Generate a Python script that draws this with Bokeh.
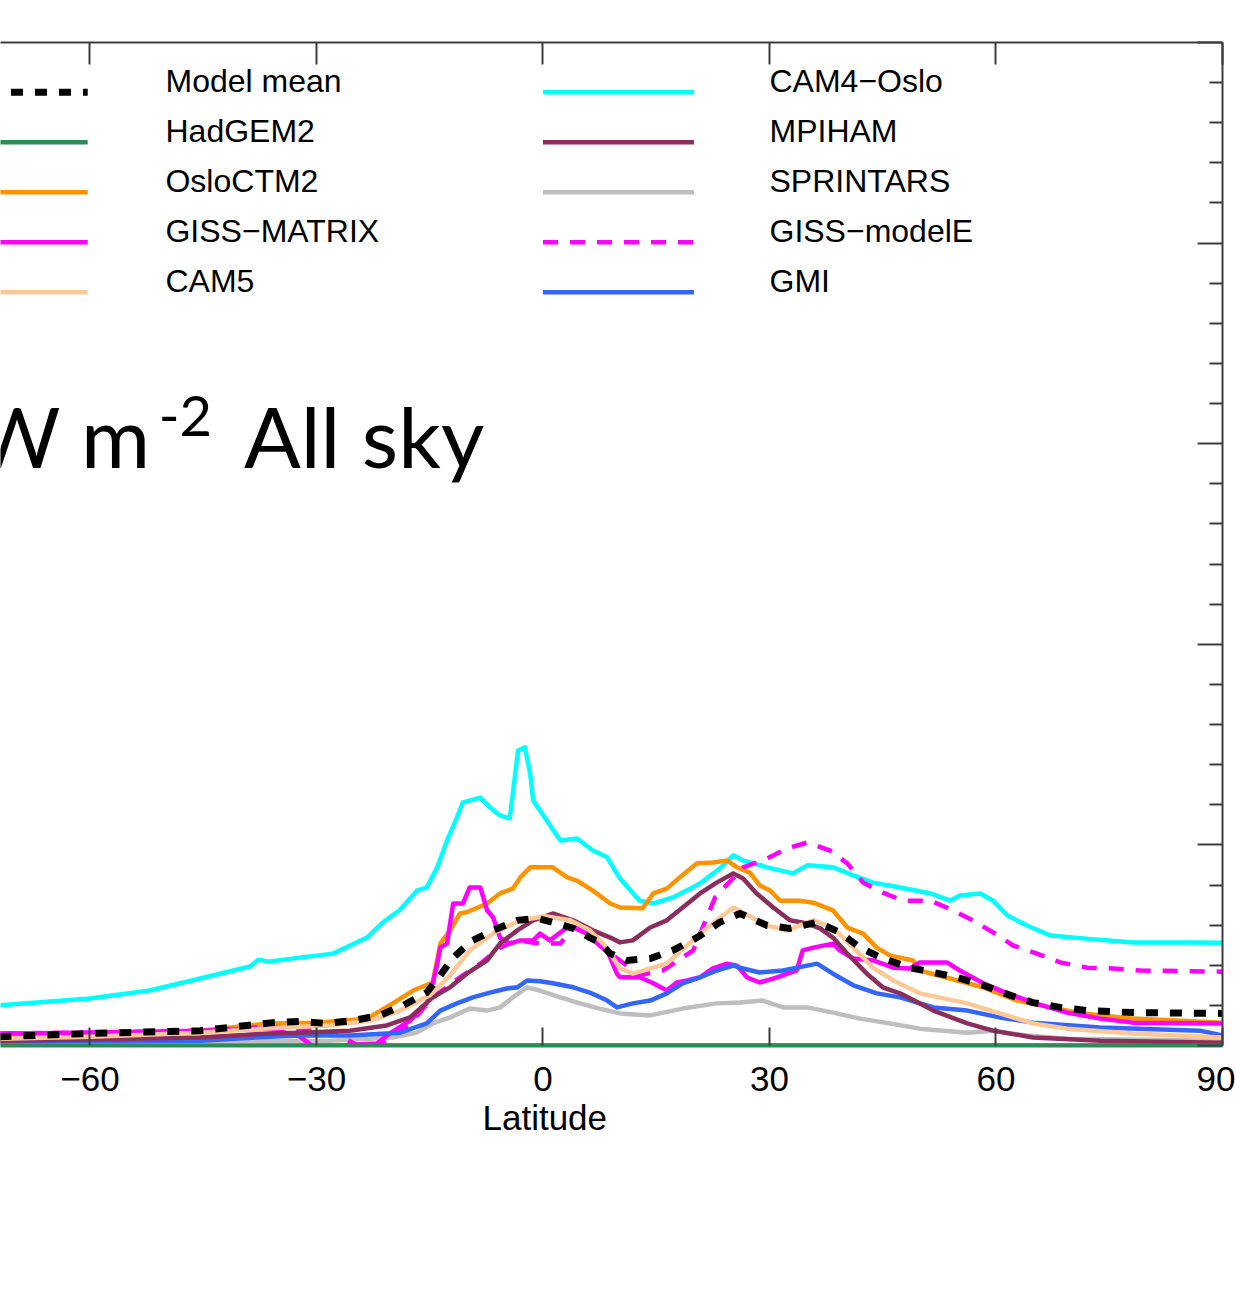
from bokeh.plotting import figure
from bokeh.models import Range1d, LinearAxis, FixedTicker, Title
from bokeh.core.properties import value
from bokeh.embed import file_html
from bokeh.resources import INLINE

# ---------------- data (latitude, W m-2) ----------------
cam4_lat = [-72, -60, -52.1, -45.4, -38.8, -37.7, -36.4, -32.2, -27.8, -23.3, -21.2, -19.0, -16.7, -15.4, -14.0,
            -12.7, -11.4, -10.6, -8.3, -7.0, -5.7, -4.4, -3.3, -2.4, -1.7, -1.3, 0.5, 2.3, 4.5, 6.6, 8.5, 10.2,
            12.8, 14.6, 17.2, 20.8, 23.4, 25.2, 26.5, 29.7, 33.1, 35.0, 38.4, 41.1, 43.7, 47.3, 51.3, 53.9, 55.2,
            57.9, 59.6, 61.5, 64.1, 67.2, 71.5, 78.1, 84.8, 90]
cam4_val = [0.100, 0.117, 0.137, 0.167, 0.197, 0.214, 0.209, 0.219, 0.229, 0.269, 0.307, 0.337, 0.386, 0.394, 0.444,
            0.511, 0.568, 0.606, 0.618, 0.593, 0.573, 0.566, 0.735, 0.743, 0.678, 0.611, 0.561, 0.511, 0.516, 0.486,
            0.469, 0.416, 0.361, 0.354, 0.369, 0.404, 0.441, 0.474, 0.461, 0.444, 0.429, 0.449, 0.444, 0.424, 0.406,
            0.394, 0.379, 0.361, 0.374, 0.379, 0.361, 0.324, 0.299, 0.274, 0.267, 0.257, 0.257, 0.256]

oslo_lat = [-72, -60, -45.4, -36.2, -29.9, -23.3, -19.9, -17.2, -14.6, -13.6, -12.3, -11.0, -10.1, -7.4, -5.7, -4.0,
            -3.0, -1.7, 1.3, 3.2, 4.5, 6.6, 8.9, 10.2, 13.2, 14.6, 16.4, 18.1, 20.4, 22.5, 24.4, 25.7, 27.4, 28.7,
            30.1, 31.4, 34.0, 35.8, 38.4, 40.3, 42.4, 44.2, 46.0, 49.0, 49.9, 53.9, 58.3, 62.8, 67.2, 71.5, 78.1, 90]
oslo_val = [0.020, 0.025, 0.037, 0.055, 0.057, 0.067, 0.105, 0.137, 0.157, 0.254, 0.287, 0.329, 0.332, 0.354, 0.379,
            0.391, 0.419, 0.444, 0.444, 0.419, 0.411, 0.386, 0.354, 0.344, 0.342, 0.379, 0.391, 0.419, 0.454, 0.456,
            0.461, 0.444, 0.431, 0.399, 0.386, 0.361, 0.361, 0.356, 0.337, 0.294, 0.279, 0.244, 0.224, 0.212, 0.187,
            0.167, 0.145, 0.112, 0.095, 0.080, 0.067, 0.057]

mean_lat = [-72, -60, -45.4, -39.2, -35.8, -32.2, -28.6, -25.2, -21.6, -18.5, -15.4, -13.6, -11.9, -9.3, -6.6, -3.4,
            -0.8, 1.9, 4.0, 6.2, 7.5, 8.9, 11.1, 14.2, 17.2, 20.4, 23.4, 26.1, 29.7, 32.7, 36.3, 39.3, 42.0, 45.0,
            48.6, 51.7, 54.8, 58.3, 61.9, 64.9, 68.5, 72.1, 78.1, 90]
mean_val = [0.022, 0.030, 0.037, 0.050, 0.057, 0.060, 0.055, 0.062, 0.075, 0.100, 0.132, 0.175, 0.219, 0.262, 0.287,
            0.312, 0.317, 0.304, 0.292, 0.269, 0.257, 0.229, 0.212, 0.217, 0.237, 0.269, 0.307, 0.329, 0.299, 0.292,
            0.307, 0.282, 0.244, 0.217, 0.194, 0.182, 0.170, 0.150, 0.125, 0.107, 0.095, 0.087, 0.082, 0.080]

cam5_lat = [-72, -60, -45.4, -34.4, -28.2, -22.9, -18.9, -15.0, -12.3, -9.7, -6.4, -3.0, 0.3, 3.6, 6.2, 8.2, 10.2,
            11.9, 16.4, 20.8, 25.2, 29.7, 32.3, 35.8, 38.4, 41.1, 43.7, 46.4, 49.9, 56.2, 60.5, 64.9, 69.4, 78.1, 90]
cam5_val = [0.017, 0.022, 0.032, 0.045, 0.050, 0.062, 0.087, 0.125, 0.175, 0.237, 0.282, 0.312, 0.322, 0.312, 0.287,
            0.249, 0.192, 0.179, 0.204, 0.279, 0.344, 0.299, 0.287, 0.312, 0.294, 0.244, 0.194, 0.162, 0.130, 0.105,
            0.080, 0.055, 0.042, 0.030, 0.020]

matrix_lat = [-72, -60, -45.4, -36.2, -32.2, -29.9, -25.6, -22.0, -20.3, -17.6, -15.4, -14.6, -14.0, -13.6, -12.7,
              -11.9, -10.6, -9.7, -8.3, -7.4, -6.6, -5.7, -4.4, -3.0, -1.3, -0.4, 0.9, 3.2, 4.5, 6.6, 8.5, 9.8, 10.2,
              12.8, 14.6, 16.4, 17.7, 19.1, 20.8, 22.5, 24.4, 25.7, 27.0, 28.7, 31.0, 33.6, 34.4, 35.8, 38.4, 39.3,
              41.1, 43.7, 46.4, 48.6, 49.9, 53.5, 55.2, 58.3, 61.5, 64.9, 69.4, 73.8, 78.1, 90]
matrix_val = [0.030, 0.032, 0.037, 0.042, 0.022, -0.010, 0.002, 0.005, 0.030, 0.062, 0.105, 0.155, 0.204, 0.244,
              0.254, 0.354, 0.354, 0.394, 0.394, 0.337, 0.319, 0.269, 0.254, 0.262, 0.262, 0.279, 0.262, 0.294, 0.294,
              0.269, 0.237, 0.179, 0.170, 0.170, 0.155, 0.137, 0.157, 0.162, 0.170, 0.192, 0.204, 0.199, 0.170, 0.157,
              0.170, 0.187, 0.237, 0.244, 0.254, 0.237, 0.217, 0.212, 0.194, 0.192, 0.207, 0.207, 0.187, 0.155, 0.130,
              0.107, 0.082, 0.067, 0.057, 0.055]

mpiham_lat = [-72, -60, -45.4, -36.2, -32.2, -25.6, -20.7, -17.6, -14.6, -12.3, -10.1, -7.4, -5.7, -3.4, -1.3, 1.3,
              4.0, 6.6, 8.9, 10.2, 11.9, 14.2, 16.4, 18.5, 20.8, 23.0, 25.2, 26.5, 28.3, 30.5, 32.7, 35.0, 36.7, 38.4,
              40.3, 42.9, 45.0, 47.3, 51.7, 56.2, 59.6, 64.9, 73.8, 90]
mpiham_val = [0.012, 0.015, 0.020, 0.030, 0.032, 0.037, 0.050, 0.070, 0.120, 0.145, 0.179, 0.212, 0.254, 0.287, 0.312,
              0.329, 0.312, 0.287, 0.269, 0.257, 0.262, 0.294, 0.312, 0.344, 0.379, 0.406, 0.429, 0.416, 0.379, 0.344,
              0.312, 0.304, 0.292, 0.269, 0.229, 0.179, 0.145, 0.130, 0.087, 0.055, 0.037, 0.020, 0.012, 0.007]

sprint_lat = [-72, -45.4, -28.2, -19.9, -16.7, -14.6, -12.3, -9.7, -7.4, -5.7, -4.0, -2.1, -0.4, 2.3, 4.9, 7.5, 10.2,
              14.2, 18.5, 23.0, 26.1, 29.1, 31.8, 35.0, 38.4, 42.0, 46.0, 49.9, 56.2, 59.6, 64.1, 69.4, 90]
sprint_val = [0.007, 0.010, 0.012, 0.020, 0.032, 0.055, 0.070, 0.092, 0.087, 0.095, 0.120, 0.145, 0.137, 0.120, 0.105,
              0.092, 0.080, 0.075, 0.092, 0.105, 0.107, 0.112, 0.095, 0.095, 0.082, 0.067, 0.055, 0.042, 0.032, 0.037,
              0.025, 0.017, 0.012]

modele_lat = [-72, -60, -45.4, -36.2, -32.2, -26.9, -23.6, -22.0, -20.3, -17.6, -14.6, -11.0, -8.3, -5.7, -3.4, -0.4,
              2.3, 4.0, 5.8, 7.5, 10.2, 12.8, 15.9, 19.9, 21.7, 22.8, 26.5, 29.7, 32.3, 35.0, 38.0, 40.3, 42.4, 45.0,
              47.7, 51.3, 54.3, 56.9, 59.6, 62.3, 65.4, 68.5, 72.1, 75.5, 79.1, 90]
modele_val = [0.030, 0.032, 0.037, 0.047, 0.042, 0.025, -0.010, -0.005, 0.020, 0.055, 0.120, 0.170, 0.204, 0.244,
              0.262, 0.254, 0.254, 0.294, 0.279, 0.249, 0.212, 0.175, 0.187, 0.237, 0.319, 0.369, 0.444, 0.466, 0.491,
              0.506, 0.486, 0.454, 0.406, 0.381, 0.361, 0.361, 0.337, 0.312, 0.282, 0.249, 0.229, 0.207, 0.194, 0.192,
              0.187, 0.184]

gmi_lat = [-72, -45.4, -36.2, -32.2, -25.6, -18.9, -15.4, -13.6, -11.4, -9.3, -7.4, -4.8, -3.4, -2.1, -0.4, 1.3, 4.0,
           6.2, 8.5, 9.8, 11.9, 14.2, 16.4, 18.5, 20.8, 23.0, 25.2, 26.5, 28.7, 31.8, 35.0, 36.3, 38.4, 41.1, 44.2,
           47.3, 51.7, 56.2, 60.5, 64.9, 73.8, 87.0, 90]
gmi_val = [0.010, 0.012, 0.022, 0.025, 0.025, 0.032, 0.055, 0.087, 0.105, 0.120, 0.130, 0.142, 0.145, 0.162, 0.160,
           0.155, 0.145, 0.132, 0.112, 0.095, 0.105, 0.112, 0.130, 0.155, 0.170, 0.187, 0.199, 0.192, 0.182, 0.187,
           0.199, 0.204, 0.179, 0.150, 0.130, 0.120, 0.095, 0.087, 0.070, 0.057, 0.045, 0.037, 0.025]

hadgem_lat = [-90, -60, -30, 0, 30, 60, 90]
hadgem_val = [0.0, 0.0, 0.0, 0.0, 0.0, 0.0, 0.0]

x_ticks = [-90, -60, -30, 0, 30, 60, 90]
x_tick_labels = ["−90", "−60", "−30", "0", "30", "60", "90"]
y_major = [0, 0.5, 1.0, 1.5, 2.0, 2.5]
y_minor = [0.1, 0.2, 0.3, 0.4, 0.6, 0.7, 0.8, 0.9, 1.1, 1.2, 1.3, 1.4, 1.6, 1.7, 1.8, 1.9, 2.1, 2.2, 2.3, 2.4]

legend_left = ["Model mean", "HadGEM2", "OsloCTM2", "GISS−MATRIX", "CAM5"]
legend_right = ["CAM4−Oslo", "MPIHAM", "SPRINTARS", "GISS−modelE", "GMI"]

# ---------------- styles ----------------
styles = {
    "Model mean": dict(color="black", width=7, dash="12 12"),
    "HadGEM2": dict(color="#2E8B57", width=4.5, dash="solid"),
    "OsloCTM2": dict(color="#FF9400", width=4.5, dash="solid"),
    "GISS−MATRIX": dict(color="#FF00FF", width=4.5, dash="solid"),
    "CAM5": dict(color="#FFC896", width=4.5, dash="solid"),
    "CAM4−Oslo": dict(color="#00FFFF", width=4.5, dash="solid"),
    "MPIHAM": dict(color="#8B2E5E", width=4.5, dash="solid"),
    "SPRINTARS": dict(color="#BEBEBE", width=4.5, dash="solid"),
    "GISS−modelE": dict(color="#FF00FF", width=4.5, dash="15 12"),
    "GMI": dict(color="#3366FF", width=4.5, dash="solid"),
}

data = {
    "HadGEM2": (hadgem_lat, hadgem_val),
    "SPRINTARS": (sprint_lat, sprint_val),
    "CAM4−Oslo": (cam4_lat, cam4_val),
    "OsloCTM2": (oslo_lat, oslo_val),
    "GISS−MATRIX": (matrix_lat, matrix_val),
    "GISS−modelE": (modele_lat, modele_val),
    "GMI": (gmi_lat, gmi_val),
    "MPIHAM": (mpiham_lat, mpiham_val),
    "CAM5": (cam5_lat, cam5_val),
    "Model mean": (mean_lat, mean_val),
}

FONT = "Liberation Sans"
PX_Y = 2.5 / 1003.0   # data units per pixel (vertical)

p = figure(width=1235, height=1285, output_backend="svg", toolbar_location=None,
           x_axis_location=None, y_axis_location=None,
           x_range=Range1d(-71.85, 90), y_range=Range1d(0, 2.5),
           min_border_left=0, min_border_right=13, min_border_top=42, min_border_bottom=240,
           background_fill_color="white", border_fill_color="white")
p.outline_line_color = None
p.xgrid.visible = False
p.ygrid.visible = False

AX = "#3c3c3c"

bottom = LinearAxis(ticker=FixedTicker(ticks=x_ticks, minor_ticks=[]),
                    major_label_overrides={t: l for t, l in zip(x_ticks, x_tick_labels)})
bottom.axis_line_color = "#2E8B57"
bottom.axis_line_width = 4
bottom.major_tick_in = 18
bottom.major_tick_out = 0
bottom.major_tick_line_color = AX
bottom.major_tick_line_width = 2
bottom.major_label_standoff = 21
bottom.major_label_text_font = FONT
bottom.major_label_text_font_size = "35px"
bottom.major_label_text_color = "black"
p.add_layout(bottom, "below")

# x-axis title ("Latitude"), centred under latitude 0
xtitle = Title(text="Latitude", align="left", offset=482, standoff=5,
               text_font=FONT, text_font_size="35px", text_font_style="normal", text_color="black")
p.add_layout(xtitle, "below")

top = LinearAxis(ticker=FixedTicker(ticks=x_ticks, minor_ticks=[]),
                 major_label_overrides={t: "" for t in x_ticks})
top.axis_line_color = AX
top.axis_line_width = 2
top.major_tick_in = 22
top.major_tick_out = 0
top.major_tick_line_color = AX
top.major_tick_line_width = 2
top.major_label_standoff = 0
p.add_layout(top, "above")

right = LinearAxis(ticker=FixedTicker(ticks=y_major, minor_ticks=y_minor),
                   major_label_overrides={t: "" for t in y_major})
right.axis_line_color = AX
right.axis_line_width = 2
right.major_tick_in = 25
right.major_tick_out = 0
right.minor_tick_in = 13
right.minor_tick_out = 0
right.major_tick_line_color = AX
right.major_tick_line_width = 2
right.minor_tick_line_color = AX
right.minor_tick_line_width = 2
right.major_label_standoff = 0
p.add_layout(right, "right")

for name, (lat, val) in data.items():
    s = styles[name]
    p.line(lat, val, line_color=s["color"], line_width=s["width"], line_dash=s["dash"],
           line_join="round" if s["dash"] == "solid" else "miter")

# legend (two columns drawn inside the axes)
row0 = 2.376
row_step = 0.1246
for names, (x0, x1, xt) in ((legend_left, (-80.0, -60.3, -50.0)),
                            (legend_right, (0.0, 20.0, 30.0))):
    for i, name in enumerate(names):
        s = styles[name]
        yy = row0 - i * row_step
        p.line([x0, x1], [yy, yy], line_color=s["color"], line_width=s["width"], line_dash=s["dash"])
    p.text(x=[xt] * len(names), y=[row0 - i * row_step + 11 * PX_Y for i in range(len(names))], text=names,
           text_font=value(FONT), text_font_size="32px", text_color="black",
           text_align="left", text_baseline="middle")

# overlay annotation text  "W m-2 All sky"
base_y = (1045 - 468) * PX_Y
p.text(x=[-51.9], y=[base_y + 0.387 * 84 * PX_Y], text=["W m"], text_font=value("Lato"), text_font_size="84px",
       text_align="right", text_baseline="middle", text_color="black")
p.text(x=[-50.9], y=[(1045 - 437) * PX_Y + 0.387 * 56 * PX_Y], text=["-2"], text_font=value("Lato"),
       text_font_size="56px", text_align="left", text_baseline="middle", text_color="black")
p.text(x=[-39.6], y=[base_y + 0.387 * 84 * PX_Y], text=["All sky"], text_font=value("Lato"), text_font_size="84px",
       text_align="left", text_baseline="middle", text_color="black")

open("out.html", "w").write(file_html(p, INLINE))
